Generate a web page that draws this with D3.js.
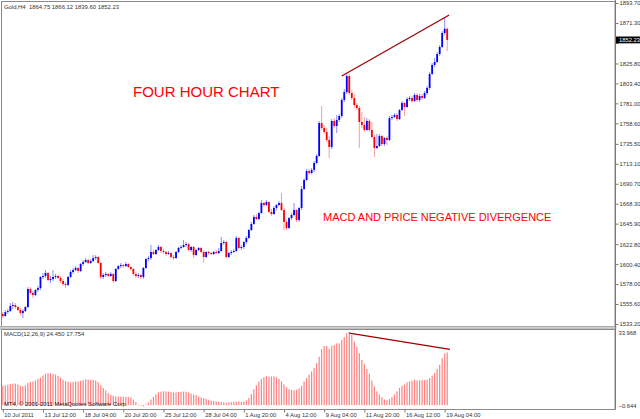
<!DOCTYPE html>
<html>
<head>
<meta charset="utf-8">
<script src="https://cdn.jsdelivr.net/npm/d3@7"></script>
<style>
  body { margin: 0; background: #fff; }
  svg { display: block; }
  text { font-family: "Liberation Sans", Arial, sans-serif; }
</style>
</head>
<body>
<svg id="chart" width="640" height="419"></svg>
<script>
// Gold H4, 178 bars (10 Jul 2011 .. 19 Aug 2011 08:00)
const opens = [
  1544.4,1542.2,1546.7,1547.8,1553.4,1554.5,1552.3,1548.9,1545.5,1547.8,
  1552.3,1572.5,1568.0,1565.8,1571.4,1573.6,1586.0,1587.1,1590.5,1582.6,
  1583.7,1586.0,1587.1,1584.9,1581.5,1578.1,1577.0,1586.0,1591.6,1593.8,
  1596.1,1592.7,1600.6,1602.8,1605.1,1601.7,1603.9,1607.3,1608.4,1601.7,
  1586.0,1588.2,1589.4,1587.1,1589.4,1581.5,1595.0,1598.3,1599.4,1598.3,
  1600.6,1597.2,1595.0,1589.4,1587.1,1588.2,1586.0,1596.1,1606.2,1607.3,
  1614.1,1611.8,1616.3,1619.7,1615.2,1614.1,1611.8,1612.9,1608.4,1607.3,
  1614.1,1618.6,1619.7,1621.9,1623.0,1616.3,1619.7,1610.7,1616.3,1618.6,
  1614.1,1608.4,1614.1,1612.9,1611.8,1614.1,1612.9,1615.2,1624.2,1625.3,
  1608.4,1612.9,1614.1,1615.2,1629.8,1618.6,1619.7,1625.3,1629.8,1638.8,
  1645.5,1653.4,1651.1,1657.9,1669.1,1666.8,1670.2,1659.0,1656.7,1663.5,
  1666.8,1669.1,1661.2,1647.8,1641.0,1652.2,1655.6,1661.2,1650.0,1663.5,
  1684.8,1694.9,1705.0,1702.7,1706.2,1714.0,1721.9,1758.9,1753.3,1748.8,
  1739.8,1732.0,1761.2,1755.6,1762.3,1766.8,1784.8,1793.7,1811.7,1792.6,
  1787.0,1779.1,1775.8,1760.1,1756.7,1751.1,1761.2,1751.1,1743.2,1730.9,
  1733.1,1744.3,1735.3,1742.1,1739.8,1764.5,1765.7,1767.9,1763.4,1773.5,
  1781.4,1776.9,1785.9,1787.0,1783.6,1790.4,1784.8,1789.3,1787.0,1792.6,
  1798.3,1814.0,1824.1,1827.4,1836.4,1844.3,1860.0,1864.75
];
const highs = [
  1546.7,1548.9,1550.0,1556.8,1557.9,1556.8,1553.4,1551.2,1550.0,1553.4,
  1574.7,1574.7,1570.3,1572.5,1575.9,1587.1,1590.5,1593.8,1591.6,1587.1,
  1593.8,1589.4,1588.2,1587.1,1583.7,1580.4,1587.1,1593.8,1596.1,1598.3,
  1597.2,1601.7,1605.1,1607.3,1606.2,1606.2,1610.7,1610.7,1609.6,1602.8,
  1590.5,1591.6,1590.5,1591.6,1590.5,1596.1,1599.4,1601.7,1600.6,1602.8,
  1601.7,1598.3,1596.1,1591.6,1590.5,1589.4,1597.2,1607.3,1609.6,1621.9,
  1616.3,1617.4,1621.9,1620.8,1617.4,1615.2,1615.2,1614.1,1610.7,1615.2,
  1619.7,1621.9,1627.5,1625.3,1624.2,1620.8,1620.8,1617.4,1619.7,1619.7,
  1616.3,1615.2,1615.2,1614.1,1615.2,1616.3,1618.6,1630.9,1627.5,1626.4,
  1614.1,1616.3,1617.4,1632.0,1630.9,1621.9,1626.4,1632.0,1639.9,1647.8,
  1655.6,1656.7,1659.0,1672.5,1670.2,1672.5,1671.3,1662.4,1665.7,1668.0,
  1671.3,1680.3,1663.5,1650.0,1653.4,1657.9,1669.1,1662.4,1664.6,1688.2,
  1697.1,1707.3,1707.3,1708.4,1716.3,1724.1,1761.2,1778.0,1756.7,1753.3,
  1744.3,1763.4,1764.5,1767.9,1769.0,1787.0,1797.1,1815.1,1814.0,1796.0,
  1790.4,1781.4,1778.0,1771.3,1765.7,1764.5,1763.4,1760.1,1745.4,1746.6,
  1746.6,1745.4,1743.2,1744.3,1766.8,1767.9,1770.2,1770.2,1774.7,1783.6,
  1782.5,1788.1,1789.3,1789.3,1792.6,1792.6,1791.5,1791.5,1794.9,1800.5,
  1816.2,1826.3,1832.0,1838.7,1846.5,1862.3,1878.0,1866.12
];
const lows = [
  1539.9,1541.1,1544.4,1546.7,1550.0,1550.0,1547.8,1543.3,1539.9,1546.7,
  1551.2,1565.8,1562.4,1564.7,1569.2,1571.4,1583.7,1584.9,1581.5,1579.2,
  1581.5,1583.7,1583.7,1579.2,1575.9,1573.6,1575.9,1584.9,1589.4,1592.7,
  1590.5,1591.6,1598.3,1601.7,1600.6,1600.6,1602.8,1605.1,1600.6,1583.7,
  1583.7,1586.0,1586.0,1586.0,1579.2,1580.4,1593.8,1596.1,1596.1,1597.2,
  1596.1,1592.7,1587.1,1584.9,1584.9,1583.7,1583.7,1595.0,1603.9,1605.1,
  1610.7,1610.7,1615.2,1612.9,1611.8,1609.6,1610.7,1607.3,1605.1,1606.2,
  1612.9,1617.4,1618.6,1619.7,1615.2,1614.1,1607.3,1609.6,1615.2,1612.9,
  1601.7,1607.3,1610.7,1610.7,1610.7,1611.8,1611.8,1614.1,1621.9,1607.3,
  1607.3,1610.7,1612.9,1614.1,1617.4,1616.3,1617.4,1623.0,1628.7,1637.6,
  1644.4,1650.0,1650.0,1656.7,1664.6,1665.7,1657.9,1654.5,1655.6,1661.2,
  1665.7,1660.1,1638.8,1638.8,1639.9,1650.0,1654.5,1647.8,1647.8,1661.2,
  1683.7,1693.8,1700.5,1701.6,1703.9,1712.9,1720.8,1751.1,1746.6,1737.6,
  1719.6,1729.7,1753.3,1747.7,1760.1,1764.5,1782.5,1791.5,1790.4,1784.8,
  1775.8,1773.5,1730.9,1753.3,1748.8,1749.9,1748.8,1741.0,1720.8,1729.7,
  1732.0,1733.1,1733.1,1734.2,1738.7,1762.3,1764.5,1761.2,1762.3,1772.4,
  1766.8,1775.8,1783.6,1781.4,1782.5,1782.5,1782.5,1784.8,1785.9,1790.4,
  1796.0,1812.9,1821.8,1826.3,1834.2,1843.2,1857.8,1839.60
];
const closes = [
  1542.2,1546.7,1547.8,1553.4,1554.5,1552.3,1548.9,1545.5,1547.8,1552.3,
  1572.5,1568.0,1565.8,1571.4,1573.6,1586.0,1587.1,1590.5,1582.6,1583.7,
  1586.0,1587.1,1584.9,1581.5,1578.1,1577.0,1586.0,1591.6,1593.8,1596.1,
  1592.7,1600.6,1602.8,1605.1,1601.7,1603.9,1607.3,1608.4,1601.7,1586.0,
  1588.2,1589.4,1587.1,1589.4,1581.5,1595.0,1598.3,1599.4,1598.3,1600.6,
  1597.2,1595.0,1589.4,1587.1,1588.2,1586.0,1596.1,1606.2,1607.3,1614.1,
  1611.8,1616.3,1619.7,1615.2,1614.1,1611.8,1612.9,1608.4,1607.3,1614.1,
  1618.6,1619.7,1621.9,1623.0,1616.3,1619.7,1610.7,1616.3,1618.6,1614.1,
  1608.4,1614.1,1612.9,1611.8,1614.1,1612.9,1615.2,1624.2,1625.3,1608.4,
  1612.9,1614.1,1615.2,1629.8,1618.6,1619.7,1625.3,1629.8,1638.8,1645.5,
  1653.4,1651.1,1657.9,1669.1,1666.8,1670.2,1659.0,1656.7,1663.5,1666.8,
  1669.1,1661.2,1647.8,1641.0,1652.2,1655.6,1661.2,1650.0,1663.5,1684.8,
  1694.9,1705.0,1702.7,1706.2,1714.0,1721.9,1758.9,1753.3,1748.8,1739.8,
  1732.0,1761.2,1755.6,1762.3,1766.8,1784.8,1793.7,1811.7,1792.6,1787.0,
  1779.1,1775.8,1760.1,1756.7,1751.1,1761.2,1751.1,1743.2,1730.9,1733.1,
  1744.3,1735.3,1742.1,1739.8,1764.5,1765.7,1767.9,1763.4,1773.5,1781.4,
  1776.9,1785.9,1787.0,1783.6,1790.4,1784.8,1789.3,1787.0,1792.6,1798.3,
  1814.0,1824.1,1827.4,1836.4,1844.3,1860.0,1864.75,1852.23
];
// MACD(12,26,9) main line, one value per bar
const macd = [
  9.0,9.2,9.5,9.8,10.0,10.0,9.6,9.0,8.8,9.2,
  10.2,10.8,11.0,11.5,12.2,12.8,13.8,14.6,14.8,14.8,
  14.6,14.2,13.6,12.8,11.8,11.2,10.8,10.6,10.8,11.0,
  11.0,11.3,11.6,11.9,11.9,11.8,11.7,11.4,10.6,9.2,
  8.0,6.8,5.6,4.8,4.3,4.0,3.9,3.9,3.9,3.8,
  3.8,3.6,2.6,1.5,0.3,-0.3,-0.6,0.4,1.2,2.6,
  3.8,5.0,5.9,6.3,6.4,6.4,6.3,6.1,5.9,5.9,
  6.1,6.2,6.3,6.2,5.9,5.4,4.9,4.6,4.0,3.5,
  3.3,2.9,2.5,2.1,1.9,1.7,1.5,1.3,1.2,1.1,
  1.3,1.4,1.6,1.6,1.7,1.5,1.7,2.2,3.3,5.2,
  7.4,9.2,10.9,12.2,13.0,13.4,13.2,13.3,13.4,13.0,
  12.2,11.0,9.6,8.3,7.4,7.1,6.9,7.2,7.8,9.0,
  11.0,12.6,14.2,15.6,17.2,19.5,22.5,26.0,27.5,27.5,
  26.2,27.5,28.0,28.7,28.7,30.3,31.5,33.4,33.968,32.6,
  29.5,27.2,24.1,21.0,19.0,16.8,14.6,11.5,8.7,6.4,
  4.9,3.8,2.6,2.3,2.9,3.8,5.0,6.4,8.0,9.0,
  9.6,10.6,11.0,11.4,11.8,11.5,11.5,11.6,11.7,11.9,
  12.6,13.7,14.9,16.8,18.7,21.8,24.0,24.45
];
const macdSignalLast = 17.754;

const priceTicks = [1893.70,1871.30,1848.90,1825.80,1803.40,1781.00,1758.60,1735.50,
  1713.10,1690.70,1668.30,1645.90,1622.80,1600.40,1578.00,1555.60,1533.20];
const macdTicks = [33.968, -0.644];
const timeLabels = ["10 Jul 2011","13 Jul 12:00","18 Jul 04:00","20 Jul 20:00","25 Jul 12:00",
  "28 Jul 04:00","1 Aug 20:00","4 Aug 12:00","9 Aug 04:00","11 Aug 20:00","16 Aug 12:00","19 Aug 04:00"];
const timeLabelBars = [0,16,32,48,64,80,96,112,128,144,160,176];

// hand drawn trend lines: [bar index, value]
const priceTrend = [[135.0, 1811.7], [177.8, 1880.2]];
const macdTrend = [[138.0, 33.4], [178.1, 25.9]];

const svg = d3.select("#chart");
const W = 640, axisX = 615;
const mainTop = 1, mainBottom = 326, macdTop = 329, macdBottom = 409;
const fmt2 = d3.format(".2f"), fmt3 = d3.format(".3f");

const x = d3.scaleLinear().domain([0, opens.length - 1]).range([2.8, 447.2]);
const y = d3.scaleLinear().domain([1533.2, 1893.7]).range([324, 3]);
const ym = d3.scaleLinear().domain([macdTicks[1], macdTicks[0]]).range([406.5, 332]);

// frames
svg.append("rect").attr("x", 0).attr("y", 0).attr("width", W).attr("height", 419).attr("fill", "#fff");
svg.append("rect").attr("x", 1.5).attr("y", mainTop + 0.5).attr("width", axisX - 1.5).attr("height", mainBottom - mainTop)
  .attr("fill", "none").attr("stroke", "#8a8a8a");
svg.append("rect").attr("x", 0).attr("y", mainBottom + 0.5).attr("width", axisX + 1).attr("height", macdTop - mainBottom - 0.5)
  .attr("fill", "#cfcfcf").attr("stroke", "#a8a8a8").attr("stroke-width", 0.6);
svg.append("rect").attr("x", 1.5).attr("y", macdTop + 0.5).attr("width", axisX - 1.5).attr("height", macdBottom - macdTop)
  .attr("fill", "none").attr("stroke", "#8a8a8a");

const bars = d3.range(opens.length).map(i => ({
  i: i, o: opens[i], h: highs[i], l: lows[i], c: closes[i], m: macd[i]
}));
const last = bars[bars.length - 1];

// candles
const candle = svg.append("g");
candle.selectAll("line").data(bars).enter().append("line")
  .attr("x1", d => x(d.i)).attr("x2", d => x(d.i))
  .attr("y1", d => y(d.h)).attr("y2", d => y(d.l))
  .attr("stroke", d => d.c >= d.o ? "#8c8cff" : "#ff9a9a")
  .attr("stroke-width", 1);
candle.selectAll("rect").data(bars).enter().append("rect")
  .attr("x", d => x(d.i) - 0.9)
  .attr("width", 1.8)
  .attr("y", d => y(Math.max(d.o, d.c)))
  .attr("height", d => Math.max(1, Math.abs(y(d.o) - y(d.c))))
  .attr("fill", d => d.c >= d.o ? "#0000ff" : "#ff0000");

// MACD histogram
svg.append("g").selectAll("rect").data(bars).enter().append("rect")
  .attr("x", d => x(d.i) - 0.6)
  .attr("width", 1.2)
  .attr("y", d => Math.min(ym(d.m), ym(0)))
  .attr("height", d => Math.abs(ym(d.m) - ym(0)))
  .attr("fill", "#ff8080");

// trend lines
const trendLine = (sc) => d3.line().x(d => x(d[0])).y(d => sc(d[1]));
svg.append("path").attr("d", trendLine(y)(priceTrend))
  .attr("fill", "none").attr("stroke", "#a00000").attr("stroke-width", 1.3);
svg.append("path").attr("d", trendLine(ym)(macdTrend))
  .attr("fill", "none").attr("stroke", "#a00000").attr("stroke-width", 1.3);

// right axis line
svg.append("line").attr("x1", axisX + 0.5).attr("x2", axisX + 0.5).attr("y1", 0).attr("y2", macdBottom + 0.5)
  .attr("stroke", "#7a7a7a");

function styleAxis(g) {
  g.select(".domain").remove();
  g.selectAll(".tick line").attr("stroke", "#7a7a7a");
  g.selectAll(".tick text").attr("fill", "#333").style("font-size", "5.8px")
    .style("font-family", "'Liberation Sans', Arial, sans-serif");
}

// the grid label hidden behind the current price marker is not printed (as in MT4)
const priceLabel = d => Math.abs(y(d) - y(last.c)) < 6 ? "" : fmt2(d);
svg.append("g").attr("transform", `translate(${axisX + 0.5},0)`)
  .call(d3.axisRight(y).tickValues(priceTicks).tickFormat(priceLabel).tickSize(3).tickPadding(1))
  .call(styleAxis);

svg.append("g").attr("transform", `translate(${axisX + 0.5},0)`)
  .call(d3.axisRight(ym).tickValues(macdTicks).tickFormat(fmt3).tickSize(0).tickPadding(3))
  .call(styleAxis)
  .selectAll(".tick text").attr("dy", (d, k) => k === 0 ? "0.5em" : "0.1em");

svg.append("g").attr("transform", `translate(0,${macdBottom + 0.5})`)
  .call(d3.axisBottom(x).tickValues(timeLabelBars).tickFormat((d, k) => timeLabels[k]).tickSize(3).tickPadding(0))
  .call(styleAxis)
  .selectAll(".tick text").attr("text-anchor", "start").attr("dx", 1);

// current price marker
svg.append("rect").attr("x", axisX + 1).attr("y", y(last.c) - 3.4).attr("width", W - axisX - 1).attr("height", 6.8)
  .attr("fill", "#000");
svg.append("text").attr("x", axisX + 4).attr("y", y(last.c) + 2)
  .attr("fill", "#fff").style("font-size", "5.8px").text(fmt2(last.c));

// header texts
svg.append("text").attr("x", 4).attr("y", 9).attr("fill", "#333").style("font-size", "5.9px")
  .attr("xml:space", "preserve")
  .text(`Gold,H4  ${fmt2(last.o)} ${fmt2(last.h)} ${fmt2(last.l)} ${fmt2(last.c)}`);
svg.append("text").attr("x", 4).attr("y", 336).attr("fill", "#333").style("font-size", "5.9px")
  .text(`MACD(12,26,9) ${fmt3(last.m)} ${fmt3(macdSignalLast)}`);
svg.append("text").attr("x", 4).attr("y", 405.5).attr("fill", "#111").style("font-size", "5.9px")
  .text("MT4, \u00a9 2001-2011 MetaQuotes Software Corp.");

// annotations
svg.append("text").attr("x", 133).attr("y", 97).attr("fill", "#ff0000").style("font-size", "15px")
  .text("FOUR HOUR CHART");
svg.append("text").attr("x", 323).attr("y", 221).attr("fill", "#ff0000").style("font-size", "11px")
  .text("MACD AND PRICE NEGATIVE DIVERGENCE");
</script>
</body>
</html>
